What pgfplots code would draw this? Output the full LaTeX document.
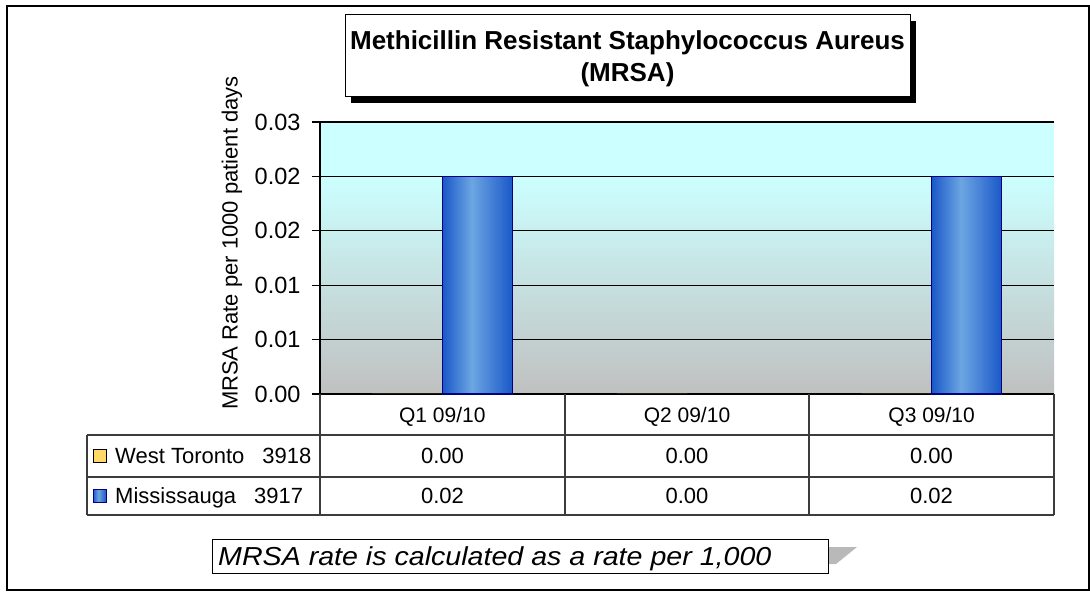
\documentclass[border=0pt]{standalone}
\usepackage{pgfplots}
\pgfplotsset{compat=1.18}
\usepackage{pgfplotstable}
\usepackage{fontspec}
\setmainfont{Liberation Sans}
\definecolor{cyanbg}{RGB}{204,255,255}
\definecolor{graybg}{RGB}{192,192,192}
\definecolor{barE}{RGB}{26,88,200}
\definecolor{barM}{RGB}{108,166,226}
\definecolor{navyb}{RGB}{0,0,128}
\definecolor{gold}{RGB}{255,217,102}
\definecolor{tline}{RGB}{60,60,60}
\pgfdeclarehorizontalshading{barshade}{100bp}{color(0bp)=(barE); color(25bp)=(barE); color(46bp)=(barM); color(75bp)=(barE); color(100bp)=(barE)}

\pgfplotstableread{
x WT MS
0 0.00 0.024
1 0.00 0.00
2 0.00 0.024
}\data

\pgfplotsset{msbar/.style={ybar, bar width=70pt, bar shift=35pt, draw=navyb, line width=1.5pt,
  shading=barshade, forget plot,
  y filter/.expression={y==0 ? nan : y}, unbounded coords=discard}}

\begin{document}
\begin{tikzpicture}[x=1pt,y=1pt]
\path[use as bounding box] (0,0) rectangle (1090,592);
\draw[line width=1.5pt, black] (7,2) rectangle (1089,586);
% plot area background
\fill[cyanbg] (320,198) rectangle (1054,470);
\shade[top color=cyanbg, bottom color=graybg] (320,198) rectangle (1054,415.6);

\begin{axis}[
  at={(320pt,198pt)}, anchor=south west,
  scale only axis, width=734pt, height=272pt,
  xmin=-0.5, xmax=2.5, ymin=0, ymax=0.03,
  xtick={0,1,2}, xticklabels={Q1 09/10,Q2 09/10,Q3 09/10},
  ytick={0,0.006,0.012,0.018,0.024,0.03},
  yticklabels={0.00,0.01,0.01,0.02,0.02,0.03},
  ymajorgrids, grid style={black, line width=1.3pt},
  axis x line*=bottom, axis y line*=left,
  axis line style={black, line width=1.3pt, -},
  x tick style={draw=none}, y tick style={black, line width=1.3pt},
  major tick length=8pt, tick align=outside,
  yticklabel style={font=\fontsize{23.5}{27}\selectfont, xshift=-8pt},
  xticklabel style={font=\fontsize{21}{25}\selectfont, yshift=-2pt},
  scaled y ticks=false, clip=false]
\addplot[ybar, bar width=70pt, bar shift=-35pt, draw=black, line width=0.8pt, fill=gold] table[x=x,y=WT]{\data};
\addplot[msbar, restrict x to domain=-0.1:0.1] table[x=x,y=MS]{\data};
\addplot[msbar, restrict x to domain=0.9:1.1] table[x=x,y=MS]{\data};
\addplot[msbar, restrict x to domain=1.9:2.1] table[x=x,y=MS]{\data};
\end{axis}

% y label
\node[rotate=90, font=\fontsize{22}{26}\selectfont] at (232,349) {MRSA Rate per 1000 patient days};

% data table
\begin{scope}[line width=1.2pt, tline]
\draw (87,157)--(1054,157);
\draw (87,115)--(1054,115);
\draw (87,77)--(1054,77);
\draw (87,157)--(87,77);
\draw (320,198)--(320,77);
\draw (565,198)--(565,77);
\draw (809,198)--(809,77);
\draw (1054,198)--(1054,77);
\end{scope}
\draw[black, line width=1pt, fill=gold] (93,129.5) rectangle (106,142.5);
\draw[navyb, line width=1pt, shading=barshade] (93,89.5) rectangle (106,102.5);
\begin{scope}[font=\fontsize{22}{26}\selectfont, inner sep=0pt]
\node[anchor=base west] at (115,128.5) {West Toronto\hspace{18pt}3918};
\node[anchor=base west] at (115,88.5) {Mississauga\hspace{18pt}3917};
\node[anchor=base] at (442.5,128.5) {0.00};
\node[anchor=base] at (687,128.5) {0.00};
\node[anchor=base] at (931.5,128.5) {0.00};
\node[anchor=base] at (442.5,88.5) {0.02};
\node[anchor=base] at (687,88.5) {0.00};
\node[anchor=base] at (931.5,88.5) {0.02};
\end{scope}

% title
\fill[black] (351,489) rectangle (916,571);
\draw[fill=white, line width=1pt] (345,495) rectangle (910,577);
\node[align=center, font=\fontsize{26}{32}\selectfont\bfseries] at (627.5,533) {Methicillin Resistant Staphylococcus Aureus\\(MRSA)};

% footnote
\fill[gray!55] (828,45)--(857,45)--(836,28)--(828,28)--cycle;
\draw[fill=white, line width=1pt] (212,19) rectangle (828,52);
\node[anchor=base west, inner sep=0pt, xscale=1.1, font=\fontsize{26}{30}\selectfont\itshape] at (218,27) {MRSA rate is calculated as a rate per 1,000};
\end{tikzpicture}
\end{document}
